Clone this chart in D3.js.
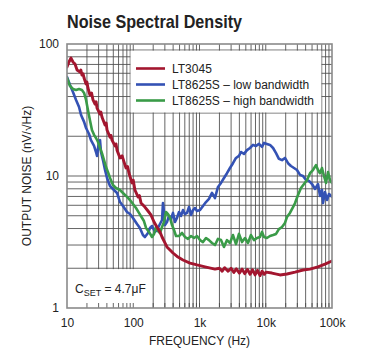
<!DOCTYPE html>
<html>
<head>
<meta charset="utf-8">
<script src="https://cdn.jsdelivr.net/npm/d3@7"></script>
<style>
  html, body { margin: 0; padding: 0; background: #fff; }
  svg text { font-family: "Liberation Sans", Arial, Helvetica, sans-serif; fill: #222; }
</style>
</head>
<body>
<svg id="chart" width="376" height="352"></svg>
<script>
// ---- data ----
const titleText = "Noise Spectral Density";
const xTickValues = [10, 100, 1000, 10000, 100000];
const xTickLabels = ["10", "100", "1k", "10k", "100k"];
const yTickValues = [1, 10, 100];
const yTickLabels = ["1", "10", "100"];
const xAxisTitle = "FREQUENCY (Hz)";
const yAxisTitle = "OUTPUT NOISE (nV/√Hz)";
const seriesNames = ["LT3045", "LT8625S – low bandwidth", "LT8625S – high bandwidth"];

const lt3045Freq = [10, 10.7, 11.5, 12.3, 13.2, 14.2, 15.7, 16.2, 16.8, 17.5, 18.1, 19.4, 20.0, 20.7, 22.2, 23.5, 24.7, 26.5, 27.5, 28.4, 31.5, 32.5, 33.7, 37.5, 39, 40.2, 44.6, 46, 47.8, 53.1, 55, 56.9, 63.1, 68, 72.5, 77.8, 82, 86.3, 95.7, 100, 106, 118, 124, 131, 150, 167, 185, 206, 228, 253, 272, 301, 323, 359, 398, 473, 563, 719, 917, 1211, 1713, 2000, 2200, 2400, 2700, 3000, 3300, 3600, 4000, 4400, 4800, 5300, 5800, 6300, 6900, 7500, 8200, 8800, 9500, 10100, 12400, 16400, 20900, 27700, 36500, 46600, 61500, 78400, 100000];
const lt3045Noise = [67.0, 73.1, 78.3, 73.1, 70.5, 63.5, 61.4, 63.5, 58.2, 59.5, 55.2, 49.8, 51.5, 46.4, 41.1, 42.5, 37.7, 35.1, 36.5, 32.7, 29.5, 30.5, 28.0, 24.3, 25.2, 22.3, 19.7, 20.3, 18.7, 16.9, 17.5, 15.7, 13.7, 14.2, 12.8, 11.5, 11.8, 10.5, 8.86, 9.3, 7.83, 6.94, 7.1, 6.24, 5.82, 5.43, 5.07, 4.48, 4.11, 3.77, 3.45, 3.11, 2.90, 2.75, 2.61, 2.43, 2.31, 2.19, 2.12, 2.05, 1.97, 2.00, 1.90, 2.02, 1.90, 2.00, 1.86, 1.98, 1.84, 1.97, 1.82, 1.96, 1.80, 1.95, 1.78, 1.93, 1.76, 1.90, 1.80, 1.87, 1.84, 1.78, 1.81, 1.87, 1.94, 1.97, 2.05, 2.15, 2.27];

const lowBwFreq = [10, 11.1, 12.3, 13.7, 15.2, 16.3, 18.1, 19.4, 21.5, 23.0, 25.6, 27.4, 28.4, 30.4, 31.5, 32.6, 34.9, 37.5, 40.2, 44.6, 49.4, 56.9, 63.1, 70.0, 80.5, 89.3, 99.1, 114, 126, 140, 150, 167, 179, 192, 213, 228, 253, 272, 281, 291, 301, 323, 346, 371, 398, 427, 457, 491, 526, 563, 604, 648, 695, 745, 798, 855, 917, 1018, 1129, 1253, 1390, 1544, 1713, 1901, 2111, 2342, 2600, 2885, 3203, 3554, 3945, 4229, 4695, 5210, 5782, 6424, 7129, 7911, 8776, 9411, 10400, 11600, 12900, 14300, 15800, 17600, 19500, 21700, 24000, 26700, 29600, 32900, 36500, 40500, 45000, 49900, 55400, 61500, 65900, 70600, 73200, 78400, 84100, 90100, 100000];
const lowBwNoise = [56.2, 48.9, 43.3, 37.7, 33.3, 29.0, 25.7, 23.1, 20.8, 18.7, 16.9, 15.2, 14.2, 18.4, 18.7, 15.2, 13.2, 11.1, 9.66, 8.40, 7.97, 7.44, 6.35, 5.93, 5.34, 5.15, 4.81, 4.33, 4.04, 3.57, 3.45, 3.70, 4.04, 4.18, 3.77, 3.90, 4.33, 4.64, 6.24, 5.34, 4.25, 4.48, 4.98, 4.72, 5.25, 4.48, 4.81, 5.34, 4.98, 5.52, 5.15, 5.25, 5.82, 5.07, 5.52, 5.72, 5.43, 5.52, 5.93, 6.35, 6.70, 7.44, 6.81, 8.26, 8.86, 9.66, 10.5, 11.5, 12.5, 13.7, 14.2, 15.2, 14.7, 15.7, 16.3, 17.2, 16.9, 17.5, 16.6, 17.8, 17.5, 17.2, 16.3, 14.9, 13.5, 13.2, 13.7, 12.5, 11.9, 11.5, 11.1, 10.2, 10.0, 9.33, 9.17, 8.69, 7.97, 8.69, 7.05, 7.83, 6.24, 7.57, 6.58, 7.31, 6.94];

const highBwFreq = [10, 11.1, 12.3, 13.7, 15.2, 16.8, 18.1, 19.4, 20.7, 22.2, 23.8, 25.6, 27.4, 29.4, 31.5, 33.7, 36.2, 38.8, 41.6, 44.6, 49.4, 54.9, 63.1, 70.0, 80.5, 89.3, 99.1, 110, 122, 136, 145, 156, 173, 192, 206, 220, 236, 253, 272, 291, 312, 335, 359, 385, 412, 442, 491, 545, 604, 670, 745, 826, 917, 1018, 1129, 1253, 1390, 1544, 1713, 1901, 2111, 2342, 2600, 2885, 3203, 3554, 3945, 4385, 4862, 5395, 5985, 6650, 7381, 8185, 8776, 9411, 10400, 11600, 12900, 14300, 15800, 17600, 19500, 20900, 23200, 25800, 27700, 30700, 34000, 37800, 42000, 46600, 51600, 57300, 61500, 65900, 70600, 75700, 81100, 87000, 93300, 100000];
const highBwNoise = [55.2, 48.1, 45.6, 44.8, 45.6, 44.8, 42.6, 37.7, 31.6, 26.5, 22.3, 20.5, 19.4, 18.1, 16.3, 14.9, 13.2, 11.7, 10.7, 9.66, 8.55, 8.11, 7.83, 7.44, 6.94, 6.58, 6.14, 5.72, 5.25, 4.81, 4.56, 4.04, 3.77, 3.45, 3.64, 4.11, 3.83, 3.70, 4.11, 4.48, 5.34, 5.15, 4.81, 4.25, 3.90, 3.51, 3.51, 3.70, 3.45, 3.34, 3.51, 3.39, 3.51, 3.27, 3.16, 3.39, 3.27, 3.11, 3.00, 3.34, 3.27, 2.90, 3.27, 3.11, 3.57, 3.05, 3.64, 3.16, 3.39, 3.11, 3.57, 3.27, 3.39, 3.45, 3.77, 3.45, 3.39, 3.51, 3.57, 3.64, 3.96, 4.11, 4.41, 4.89, 5.25, 5.82, 6.24, 7.18, 8.11, 8.69, 9.33, 10.5, 11.1, 12.1, 11.1, 10.5, 11.5, 10.0, 8.86, 10.7, 9.33, 8.86];

const colors = ["#a3162f", "#3452b4", "#3a9b48"];

// ---- layout ----
const svg = d3.select("#chart");
const mLeft = 67, mRight = 332, mTop = 44, mBottom = 308;
const x = d3.scaleLog().domain([10, 100000]).range([mLeft, mRight]);
const y = d3.scaleLog().domain([1, 100]).range([mBottom, mTop]);

const xGrid = [];
for (let d = 10; d < 100000; d *= 10) for (let k = 1; k < 10; k++) xGrid.push(d * k);
const yGrid = [];
for (let d = 1; d < 100; d *= 10) for (let k = 1; k < 10; k++) yGrid.push(d * k);

const grid = svg.append("g").attr("stroke", "#4a4a4a").attr("stroke-width", 0.85);
grid.selectAll("line.v").data(xGrid.filter(v => v > 10)).join("line")
  .attr("x1", d => x(d)).attr("x2", d => x(d)).attr("y1", mTop).attr("y2", mBottom);
grid.selectAll("line.h").data(yGrid.filter(v => v > 1)).join("line")
  .attr("y1", d => y(d)).attr("y2", d => y(d)).attr("x1", mLeft).attr("x2", mRight);

// white boxes (legend & annotation)
svg.append("rect").attr("x", x(91)).attr("y", y(89)).attr("width", x(69000) - x(91)).attr("height", y(30.3) - y(89)).attr("fill", "#fff");
svg.append("rect").attr("x", mLeft).attr("y", y(1.97)).attr("width", x(190) - mLeft).attr("height", mBottom - y(1.97)).attr("fill", "#fff");

// bottom ticks
svg.append("g").attr("stroke", "#4a4a4a").attr("stroke-width", 0.85)
  .selectAll("line").data(xGrid.filter(v => v > 10)).join("line")
  .attr("x1", d => x(d)).attr("x2", d => x(d)).attr("y1", mBottom - 5).attr("y2", mBottom);

// curves
const series = [
  { name: seriesNames[1], freq: lowBwFreq, vals: lowBwNoise, color: colors[1] },
  { name: seriesNames[2], freq: highBwFreq, vals: highBwNoise, color: colors[2] },
  { name: seriesNames[0], freq: lt3045Freq, vals: lt3045Noise, color: colors[0] }
];
svg.append("clipPath").attr("id", "clip").append("rect")
  .attr("x", mLeft).attr("y", mTop).attr("width", mRight - mLeft).attr("height", mBottom - mTop);
const line = d3.line().x(d => x(d[0])).y(d => y(d[1]));
svg.append("g").attr("clip-path", "url(#clip)")
  .selectAll("path").data(series).join("path")
  .attr("d", s => line(d3.zip(s.freq, s.vals)))
  .attr("fill", "none").attr("stroke", s => s.color)
  .attr("stroke-width", s => s.color === colors[0] ? 2.9 : 2.6)
  .attr("stroke-linejoin", "round").attr("stroke-linecap", "round");

// frame
svg.append("rect").attr("x", mLeft).attr("y", mTop).attr("width", mRight - mLeft).attr("height", mBottom - mTop)
  .attr("fill", "none").attr("stroke", "#8a8a8a").attr("stroke-width", 1.6);

// axes labels
const xAxis = svg.append("g").attr("transform", `translate(0,${mBottom})`)
  .call(d3.axisBottom(x).tickValues(xTickValues).tickFormat((d, i) => xTickLabels[i]).tickSize(0).tickPadding(10));
xAxis.select(".domain").remove();
xAxis.selectAll("text").attr("font-size", 12).style("font-family", "Liberation Sans, Arial, sans-serif").attr("fill", "#222");

const yAxis = svg.append("g").attr("transform", `translate(${mLeft},0)`)
  .call(d3.axisLeft(y).tickValues(yTickValues).tickFormat((d, i) => yTickLabels[i]).tickSize(0).tickPadding(8));
yAxis.select(".domain").remove();
yAxis.selectAll("text").attr("font-size", 12).style("font-family", "Liberation Sans, Arial, sans-serif").attr("fill", "#222").attr("dy", "0.3em");

svg.append("text").attr("x", (mLeft + mRight) / 2).attr("y", 345).attr("text-anchor", "middle")
  .attr("font-size", 12).text(xAxisTitle);
svg.append("text").attr("transform", `translate(31,${(mTop + mBottom) / 2}) rotate(-90)`).attr("text-anchor", "middle")
  .attr("font-size", 12).text(yAxisTitle);

// title
svg.append("text").attr("x", 67).attr("y", 28).attr("font-size", 18.5).attr("font-weight", "bold")
  .attr("textLength", 175).attr("lengthAdjust", "spacingAndGlyphs").text(titleText);

// legend
const legendOrder = [0, 1, 2];
const lg = svg.append("g");
legendOrder.forEach((si, i) => {
  const yy = 68.5 + i * 16;
  lg.append("line").attr("x1", 136).attr("x2", 165).attr("y1", yy).attr("y2", yy)
    .attr("stroke", colors[si]).attr("stroke-width", 2.6);
  lg.append("text").attr("x", 172).attr("y", yy + 4.5).attr("font-size", 12).text(seriesNames[si]);
});

// annotation
const ann = svg.append("text").attr("x", 75).attr("y", 293).attr("font-size", 12);
ann.append("tspan").text("C");
ann.append("tspan").attr("font-size", 9).attr("dy", 3).text("SET");
ann.append("tspan").attr("dy", -3).text(" = 4.7μF");
</script>
</body>
</html>
